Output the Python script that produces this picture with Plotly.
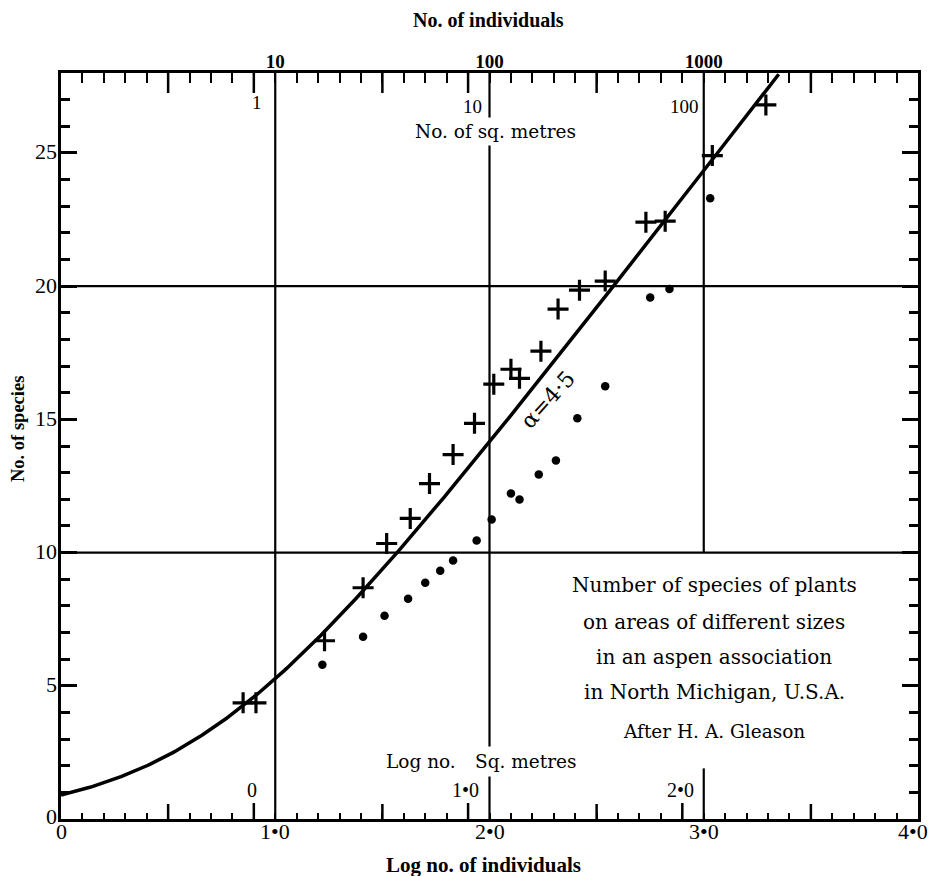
import numpy as np
import plotly.graph_objects as go

# Gleason's aspen-association counts (log10 of individuals vs. number of species)
cross_log_individuals = [0.85, 0.91, 1.23, 1.41, 1.52, 1.63, 1.72, 1.83, 1.93, 2.02,
                         2.10, 2.14, 2.24, 2.32, 2.42, 2.54, 2.73, 2.82, 3.04, 3.29]
cross_species = [4.36, 4.36, 6.69, 8.68, 10.34, 11.28, 12.59, 13.68, 14.85, 16.32,
                 16.88, 16.54, 17.56, 19.14, 19.85, 20.19, 22.40, 22.44, 24.90, 26.80]

dot_log_individuals = [1.22, 1.41, 1.51, 1.62, 1.70, 1.77, 1.83, 1.94, 2.01,
                       2.10, 2.14, 2.23, 2.31, 2.41, 2.54, 2.75, 2.84, 3.03]
dot_species = [5.79, 6.84, 7.63, 8.27, 8.87, 9.32, 9.70, 10.45, 11.24,
               12.22, 11.99, 12.93, 13.46, 15.04, 16.24, 19.57, 19.89, 23.30]

# Fisher log-series curve S = alpha * ln(1 + N / alpha)
alpha = 4.5
curve_end = 3.35

bottom_tick_vals = [0, 1, 2, 3, 4]
bottom_tick_text = ["0", "1•0", "2•0", "3•0", "4•0"]
top_tick_vals = [1, 2, 3]
top_tick_text = ["<b>10</b>", "<b>100</b>", "<b>1000</b>"]
y_tick_vals = [0, 5, 10, 15, 20, 25]
y_tick_text = ["0", "5", "10", "15", "20", "25"]

sqm_positions = [0.9, 1.9, 2.9]          # log sq. metres 0, 1, 2 on the individuals scale
sqm_top_text = ["1", "10", "100"]
sqm_bottom_text = ["0", "1•0", "2•0"]

SERIF = "Liberation Serif"
WIDE = "DejaVu Serif"

xs = np.linspace(0, curve_end, 300)
curve_species = alpha * np.log(1 + 10 ** xs / alpha)

fig = go.Figure()

fig.add_trace(go.Scatter(x=xs, y=curve_species, mode="lines",
                         line=dict(color="black", width=3.5),
                         hoverinfo="skip", showlegend=False))
fig.add_trace(go.Scatter(x=cross_log_individuals, y=cross_species, mode="markers",
                         marker=dict(symbol="cross-thin", size=15,
                                     line=dict(color="black", width=3.2)),
                         showlegend=False))
fig.add_trace(go.Scatter(x=dot_log_individuals, y=dot_species, mode="markers",
                         marker=dict(symbol="circle", size=8.5, color="black"),
                         showlegend=False))
# anchor trace for the top axis
fig.add_trace(go.Scatter(x=[None], y=[None], xaxis="x2", mode="markers",
                         showlegend=False, hoverinfo="skip"))

grid = dict(color="black", width=2.2)
shapes = []
# horizontal rules
for yv in (10, 20):
    shapes.append(dict(type="line", xref="x", yref="y", x0=0, x1=4, y0=yv, y1=yv, line=grid))
# vertical rules
shapes.append(dict(type="line", xref="x", yref="y", x0=1, x1=1, y0=0, y1=28, line=grid))
shapes.append(dict(type="line", xref="x", yref="y", x0=2, x1=2, y0=0, y1=28, line=grid))
shapes.append(dict(type="line", xref="x", yref="y", x0=3, x1=3, y0=10, y1=28, line=grid))
shapes.append(dict(type="line", xref="x", yref="y", x0=3, x1=3, y0=0, y1=1.9, line=grid))

# longer half-unit ticks on bottom and top
for xv in (0.5, 1.5, 2.5, 3.5):
    shapes.append(dict(type="line", xref="x", yref="paper", ysizemode="pixel", yanchor=0,
                       x0=xv, x1=xv, y0=0, y1=15, line=dict(color="black", width=2.5)))
    shapes.append(dict(type="line", xref="x", yref="paper", ysizemode="pixel", yanchor=1,
                       x0=xv, x1=xv, y0=0, y1=-20, line=dict(color="black", width=2.5)))
# sq. metre ticks
for xv in sqm_positions:
    shapes.append(dict(type="line", xref="x", yref="paper", ysizemode="pixel", yanchor=0,
                       x0=xv, x1=xv, y0=0, y1=16, line=dict(color="black", width=2.5)))
for xv in sqm_positions[:2]:
    shapes.append(dict(type="line", xref="x", yref="paper", ysizemode="pixel", yanchor=1,
                       x0=xv, x1=xv, y0=0, y1=-20, line=dict(color="black", width=2.5)))

annotations = []


def note(text, x, y, size, family=SERIF, xref="x", yref="y", xanchor="center", **kw):
    annotations.append(dict(text=text, x=x, y=y, xref=xref, yref=yref, showarrow=False,
                            xanchor=xanchor, yanchor="middle",
                            font=dict(family=family, size=size, color="black"), **kw))


# sq. metre scale labels
note(sqm_top_text[0], sqm_positions[0] + 0.015, 26.88, 19)
note(sqm_top_text[1], sqm_positions[1] + 0.02, 26.73, 19)
note(sqm_top_text[2], sqm_positions[2] + 0.01, 26.73, 19)
note("No. of sq. metres", 2.03, 25.79, 18.5, family=WIDE, bgcolor="white", borderpad=3)
for xv, t in zip(sqm_positions, sqm_bottom_text):
    note(t, xv - 0.01, 1.09, 20)
note("Log no.", 1.68, 2.14, 18.5, family=WIDE)
note("Sq. metres", 2.17, 2.14, 18.5, family=WIDE, bgcolor="white", borderpad=4)

# curve label
note("α=4·5", 2.274, 15.73, 22, family=WIDE, textangle=-48)

# descriptive block
block = ["Number of species of plants", "on areas of different sizes",
         "in an aspen association", "in North Michigan, U.S.A."]
for t, yv in zip(block, [8.78, 7.39, 6.08, 4.77]):
    note(t, 3.05, yv, 20, family=WIDE)
note("After H. A. Gleason", 3.05, 3.27, 18.5, family=WIDE)

# bottom scale labels (the last one is kept inside the page edge)
for xv, t in zip(bottom_tick_vals[:-1], bottom_tick_text[:-1]):
    note(t, xv, -0.0174, 22, yref="paper")
note(bottom_tick_text[-1], bottom_tick_vals[-1], -0.0174, 22, yref="paper",
     xanchor="right", xshift=12)

# left scale labels
for yv, t in zip(y_tick_vals, y_tick_text):
    note(t, 0, yv, 22, xref="paper", xanchor="right", xshift=-2,
         yshift=3 if yv == 0 else 1)

# axis titles
note("<b>No. of individuals</b>", 1.995, 1.071, 20, yref="paper")
note("<b>Log no. of individuals</b>", 1.97, -0.0617, 21, yref="paper")
note("<b>No. of species</b>", -0.05, 0.523, 18.5, xref="paper", yref="paper", textangle=-90)

fig.update_layout(
    width=933, height=876,
    margin=dict(l=61, r=12, t=73, b=57),
    paper_bgcolor="white", plot_bgcolor="white",
    shapes=shapes, annotations=annotations,
    font=dict(family=SERIF, color="black"),
    xaxis=dict(range=[0, 4], showgrid=False, zeroline=False,
               showline=True, linecolor="black", linewidth=3, mirror=True,
               ticks="inside", tickvals=bottom_tick_vals,
               ticktext=[""] * len(bottom_tick_vals),
               ticklen=6, tickwidth=2, tickcolor="black",
               minor=dict(tickmode="linear", tick0=0, dtick=0.1, ticks="inside",
                          ticklen=6, tickwidth=2, tickcolor="black")),
    xaxis2=dict(range=[0, 4], overlaying="x", side="top", anchor="y",
                showgrid=False, zeroline=False, showline=False,
                ticks="inside", tickvals=top_tick_vals, ticktext=top_tick_text,
                ticklen=10, tickwidth=2, tickcolor="black",
                tickfont=dict(family=SERIF, size=19),
                minor=dict(tickmode="linear", tick0=0, dtick=0.1, ticks="inside",
                           ticklen=10, tickwidth=2, tickcolor="black")),
    yaxis=dict(range=[0, 28], showgrid=False, zeroline=False,
               showline=True, linecolor="black", linewidth=3, mirror="ticks",
               ticks="inside", tickvals=y_tick_vals,
               ticktext=[""] * len(y_tick_vals),
               ticklen=16, tickwidth=3, tickcolor="black",
               minor=dict(tickmode="linear", tick0=0, dtick=1, ticks="inside",
                          ticklen=9, tickwidth=3, tickcolor="black")),
)

fig.write_html("out.html")
